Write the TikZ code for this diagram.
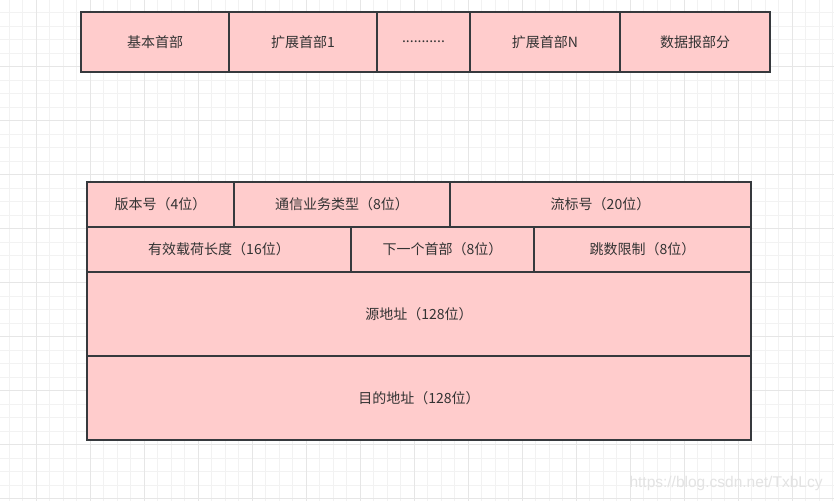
\documentclass[tikz,border=0pt]{standalone}
\usepackage{fontspec}
\setmainfont{Noto Sans CJK SC}
\newfontfamily\markfont{Liberation Sans}
\usetikzlibrary{positioning}
\definecolor{cellfill}{HTML}{FFCCCC}
\definecolor{cellline}{HTML}{36393D}
\definecolor{celltext}{HTML}{333333}
\definecolor{gridminor}{HTML}{F2F2F2}
\definecolor{gridmajor}{HTML}{E6E6E6}
\tikzstyle{cell} = [rectangle, draw=cellline, fill=cellfill, line width=1.5pt, outer sep=0pt, inner sep=0pt, text=celltext, font=\fontsize{14}{16}\selectfont, minimum height=60pt]
\tikzstyle{field} = [cell, minimum height=45pt]
\tikzstyle{addr} = [cell, minimum width=664pt, minimum height=84pt]

\begin{document}
\begin{tikzpicture}[x=1pt, y=-1pt, node distance=0pt]
				\useasboundingbox (0,0) rectangle (834,501);
				\fill[white] (0,0) rectangle (834,501);
				
				% grid
				\foreach \gx in {9,22.5,...,834} \draw[gridminor, line width=0.8pt] (\gx,0) -- (\gx,501);
				\foreach \gy in {12.5,26,...,501} \draw[gridminor, line width=0.8pt] (0,\gy) -- (834,\gy);
				\foreach \gx in {36,90,...,834} \draw[gridmajor, line width=0.8pt] (\gx,0) -- (\gx,501);
				\foreach \gy in {66,120,...,501} \draw[gridmajor, line width=0.8pt] (0,\gy) -- (834,\gy);
				
				% packet
				\node (base) [cell, minimum width=148pt, anchor=north west] at (81,12) {基本首部};
				\node (ext1) [cell, minimum width=148pt, right=of base] {扩展首部1};
				\node (dots) [cell, minimum width=93pt, right=of ext1] {...........};
				\node (extn) [cell, minimum width=150pt, right=of dots] {扩展首部N};
				\node (data) [cell, minimum width=150pt, right=of extn] {数据报部分};
				
				% base header
				\node (ver) [field, minimum width=147pt, anchor=north west] at (87,182) {版本号（4位）};
				\node (cls) [field, minimum width=216pt, right=of ver] {通信业务类型（8位）};
				\node (flow) [field, minimum width=301pt, right=of cls] {流标号（20位）};
				\node (len) [field, minimum width=264pt, anchor=north west] at (ver.south west) {有效载荷长度（16位）};
				\node (next) [field, minimum width=183pt, right=of len] {下一个首部（8位）};
				\node (hop) [field, minimum width=217pt, right=of next] {跳数限制（8位）};
				\node (src) [addr, anchor=north west] at (len.south west) {源地址（128位）};
				\node (dst) [addr, anchor=north west] at (src.south west) {目的地址（128位）};
				
				\node (mark) [text=gray!22, font=\markfont\fontsize{15.5}{18}\selectfont] at (726,483) {https://blog.csdn.net/TxbLcy};
			\end{tikzpicture}
\end{document}
